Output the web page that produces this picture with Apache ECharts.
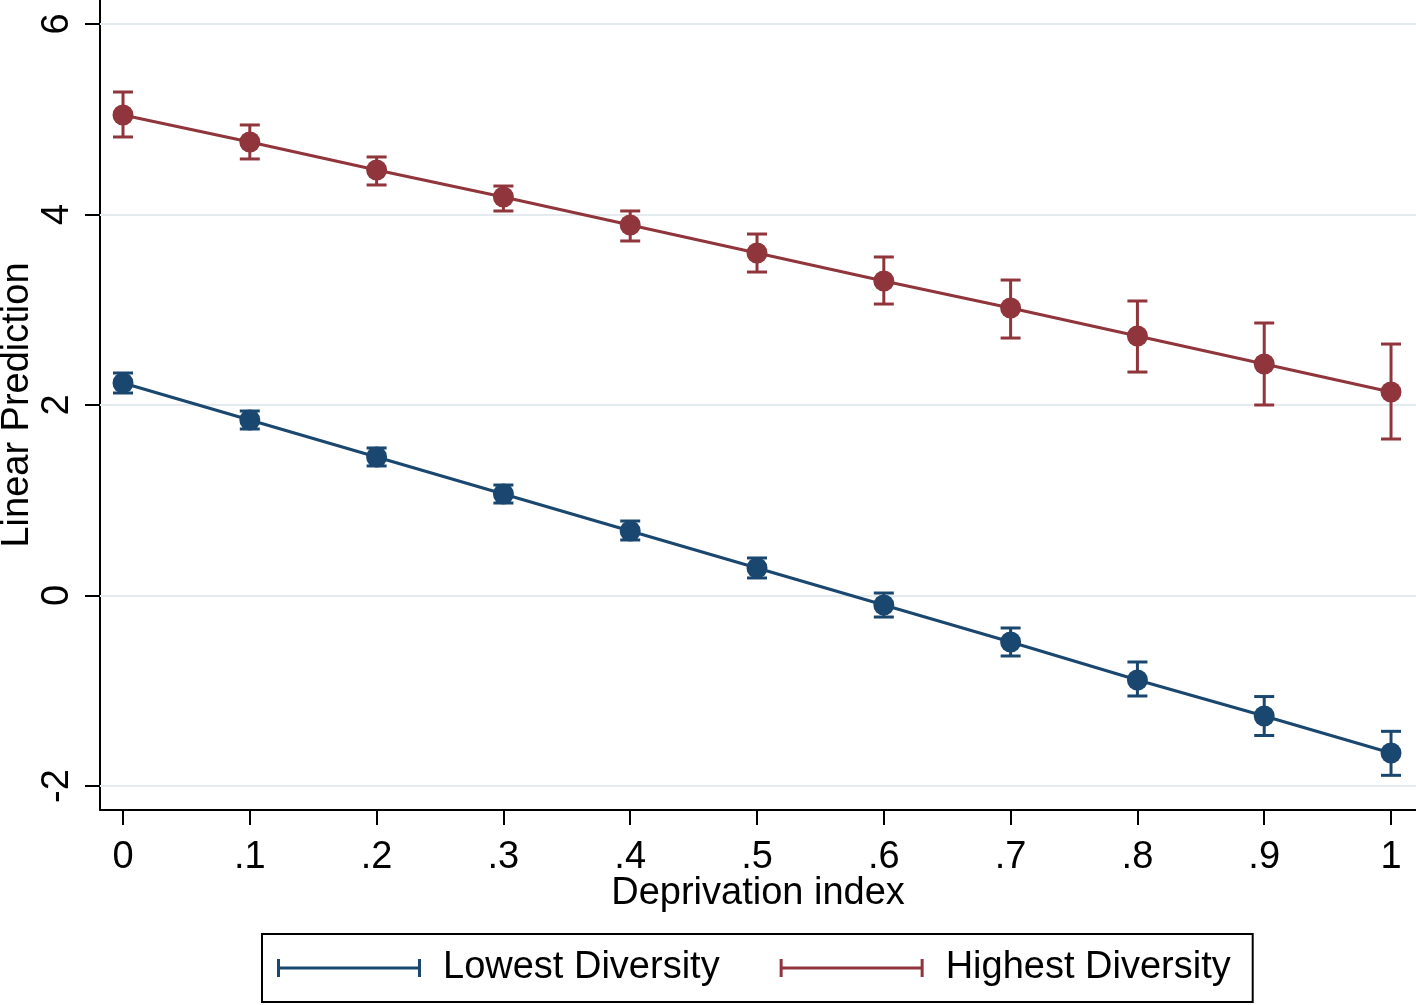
<!DOCTYPE html>
<html>
<head>
<meta charset="utf-8">
<script src="https://cdn.jsdelivr.net/npm/echarts@6/dist/echarts.min.js"></script>
<style>
html,body{margin:0;padding:0;background:#fff;}
#chart{width:1416px;height:1005px;}
</style>
</head>
<body>
<div id="chart"></div>
<script>
// ---- data ----
const xValues = [0, 0.1, 0.2, 0.3, 0.4, 0.5, 0.6, 0.7, 0.8, 0.9, 1];
const xTickLabels = ['0', '.1', '.2', '.3', '.4', '.5', '.6', '.7', '.8', '.9', '1'];
const yTicks = [-2, 0, 2, 4, 6];

const lowestFit = [2.231, 1.843, 1.454, 1.066, 0.677, 0.289, -0.100, -0.488, -0.887, -1.265, -1.654];
const lowestLo  = [2.126, 1.748, 1.360, 0.971, 0.583, 0.184, -0.226, -0.635, -1.055, -1.470, -1.888];
const lowestHi  = [2.336, 1.937, 1.549, 1.160, 0.782, 0.394, 0.026, -0.341, -0.698, -1.061, -1.426];

const highestFit = [5.045, 4.761, 4.467, 4.184, 3.890, 3.596, 3.302, 3.018, 2.724, 2.430, 2.136];
const highestLo  = [4.814, 4.583, 4.310, 4.037, 3.722, 3.396, 3.060, 2.703, 2.346, 2.000, 1.643];
const highestHi  = [5.286, 4.940, 4.604, 4.299, 4.037, 3.795, 3.554, 3.312, 3.092, 2.861, 2.640];

const seriesNames = ['Lowest Diversity', 'Highest Diversity'];
const navy = '#1A476F';
const cranberry = '#90353B';
const FONT = 'Liberation Sans, Arial, Helvetica, sans-serif';
const FS = 38;

function errorBarRenderer(color) {
  return function (params, api) {
    const x = api.value(0), lo = api.value(1), hi = api.value(2);
    const a = api.coord([x, lo]);
    const b = api.coord([x, hi]);
    const w = 10;
    const style = { stroke: color, lineWidth: 3, fill: null };
    return {
      type: 'group',
      children: [
        { type: 'line', shape: { x1: a[0], y1: a[1], x2: b[0], y2: b[1] }, style: style },
        { type: 'line', shape: { x1: a[0] - w, y1: a[1], x2: a[0] + w, y2: a[1] }, style: style },
        { type: 'line', shape: { x1: b[0] - w, y1: b[1], x2: b[0] + w, y2: b[1] }, style: style }
      ]
    };
  };
}

const legendIcon = 'path://M0,0h3v18h-3z M0,7.5h144v3h-144z M141,0h3v18h-3z';

const chart = echarts.init(document.getElementById('chart'), null, { renderer: 'canvas' });
chart.setOption({
  animation: false,
  backgroundColor: '#ffffff',
  textStyle: { fontFamily: FONT },
  grid: { left: 100, right: 0, top: 0, bottom: 195, containLabel: false, outerBoundsMode: 'none' },
  xAxis: {
    type: 'value',
    min: -0.01814,
    max: 1.0197,
    name: 'Deprivation index',
    nameLocation: 'middle',
    nameGap: 65,
    nameMoveOverlap: false,
    nameTextStyle: { fontSize: FS, color: '#000', fontFamily: FONT },
    axisLine: { show: true, onZero: false, lineStyle: { color: '#000', width: 2 } },
    axisTick: { show: true, length: 15, lineStyle: { color: '#000', width: 2 }, customValues: xValues },
    axisLabel: {
      fontSize: FS, color: '#000', margin: 29, fontFamily: FONT,
      customValues: xValues,
      formatter: function (v) {
        const i = xValues.findIndex(function (t) { return Math.abs(t - v) < 1e-9; });
        return i >= 0 ? xTickLabels[i] : '';
      }
    },
    splitLine: { show: false }
  },
  yAxis: {
    type: 'value',
    min: -2.252,
    max: 6.252,
    name: 'Linear Prediction',
    nameLocation: 'middle',
    nameGap: 63,
    nameMoveOverlap: false,
    nameRotate: 90,
    nameTextStyle: { fontSize: FS, color: '#000', fontFamily: FONT },
    axisLine: { show: true, onZero: false, lineStyle: { color: '#000', width: 2 } },
    axisTick: { show: true, length: 15, lineStyle: { color: '#000', width: 2 }, customValues: yTicks },
    axisLabel: { fontSize: FS, color: '#000', rotate: 90, margin: 23, fontFamily: FONT, customValues: yTicks },
    splitLine: { show: false }
  },
  legend: {
    data: [
      { name: seriesNames[0], icon: legendIcon, itemStyle: { color: navy, borderWidth: 0 } },
      { name: seriesNames[1], icon: legendIcon, itemStyle: { color: cranberry, borderWidth: 0 } }
    ],
    left: 262,
    top: 934,
    orient: 'horizontal',
    itemWidth: 144,
    itemHeight: 18,
    itemGap: 60,
    padding: [14, 22, 14, 15],
    borderColor: '#000',
    borderWidth: 2,
    backgroundColor: '#fff',
    textStyle: { fontSize: FS, color: '#000', fontFamily: FONT, padding: [0, 0, 0, 17], lineHeight: 40 }
  },
  series: [
    {
      name: seriesNames[0],
      type: 'line',
      data: xValues.map(function (x, i) { return [x, lowestFit[i]]; }),
      symbol: 'circle',
      symbolSize: 21,
      lineStyle: { color: navy, width: 3 },
      itemStyle: { color: navy },
      z: 5,
      markLine: {
        silent: true,
        symbol: 'none',
        label: { show: false },
        lineStyle: { color: '#e3ebee', width: 2, type: 'solid' },
        data: yTicks.map(function (t) { return { yAxis: t }; }),
        z: 1
      }
    },
    {
      name: seriesNames[1],
      type: 'line',
      data: xValues.map(function (x, i) { return [x, highestFit[i]]; }),
      symbol: 'circle',
      symbolSize: 21,
      lineStyle: { color: cranberry, width: 3 },
      itemStyle: { color: cranberry },
      z: 5
    },
    {
      name: 'Lowest Diversity CI',
      type: 'custom',
      renderItem: errorBarRenderer(navy),
      data: xValues.map(function (x, i) { return [x, lowestLo[i], lowestHi[i]]; }),
      encode: { x: 0, y: [1, 2] },
      z: 4
    },
    {
      name: 'Highest Diversity CI',
      type: 'custom',
      renderItem: errorBarRenderer(cranberry),
      data: xValues.map(function (x, i) { return [x, highestLo[i], highestHi[i]]; }),
      encode: { x: 0, y: [1, 2] },
      z: 4
    }
  ]
});
</script>
</body>
</html>
